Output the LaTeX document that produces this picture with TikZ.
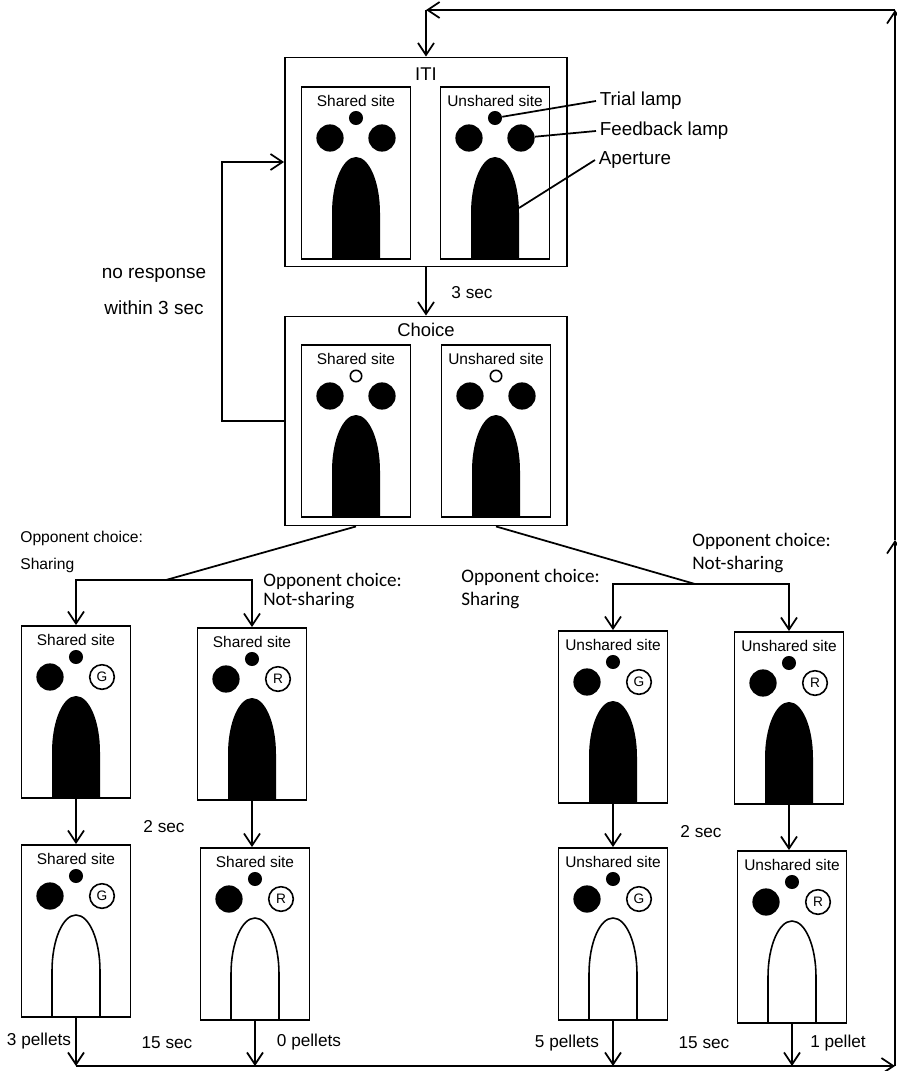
\documentclass[tikz,border=0pt]{standalone}
\usepackage{fontspec}
\setmainfont{Liberation Sans}
\newfontfamily\calibrifont{Carlito}
\usetikzlibrary{arrows.meta}

\begin{document}
\begin{tikzpicture}
[x=0.02cm,y=-0.02cm,
  framedecorate/.style={draw,line width=1.1pt,inner sep=0pt,
    minimum width=5.64cm,minimum height=4.18cm},%
  sitedecorate/.style={draw,line width=1.1pt,inner sep=0pt,
    minimum width=2.18cm,minimum height=3.44cm},%
  trialfilled/.style={shape=circle,fill=black,inner sep=0pt,minimum size=8pt},%
  trialopen/.style={shape=circle,draw,line width=0.9pt,inner sep=0pt,minimum size=6.5pt},%
  feedback/.style={shape=circle,fill=black,inner sep=0pt,minimum size=15.5pt},%
  letterlamp/.style={shape=circle,draw,line width=0.9pt,inner sep=0pt,minimum size=14pt},%
  greenlamp/.style={letterlamp,label={[lettertext]center:G}},%
  redlamp/.style={letterlamp,label={[lettertext]center:R}},%
  lettertext/.style={inner sep=0pt,font=\fontsize{7.8}{9}\selectfont},%
  shutaperture/.style={fill=black},%
  openaperture/.style={draw,line width=0.9pt},%
  sitelabel/.style={inner sep=0pt,font=\fontsize{8.8}{10}\selectfont},%
  titletext/.style={inner sep=0pt,font=\fontsize{10.5}{12}\selectfont},%
  callouttext/.style={anchor=west,inner sep=2pt,font=\fontsize{10.7}{12}\selectfont},%
  timetext/.style={inner sep=0pt,font=\fontsize{9.8}{11}\selectfont},%
  linedecorate/.style={-,line width=1pt},%
  arrowdecorate/.style={-{Straight Barb[length=2.4mm,width=3.2mm]},line width=1pt}]
\useasboundingbox (0,0) rectangle (896,1071);
%% main frames
\node (iti) at (426,162) [framedecorate] {};
\node (choice) at (426,421) [framedecorate] {};
\node [titletext] at (426,74) {ITI};
\node [titletext] at (426,330) {Choice};
%% sites with lamps and apertures
\foreach \sitename/\x/\y/\sitetext/\triallamp/\rightlamp/\aperture in {
  itis/356/173/Shared site/trialfilled/feedback/shutaperture,
  itiu/495/173/Unshared site/trialfilled/feedback/shutaperture,
  chs/356/431/Shared site/trialopen/feedback/shutaperture,
  chu/496/431/Unshared site/trialopen/feedback/shutaperture,
  sa/76/712/Shared site/trialfilled/greenlamp/shutaperture,
  sb/252/714/Shared site/trialfilled/redlamp/shutaperture,
  ua/613/717/Unshared site/trialfilled/greenlamp/shutaperture,
  ub/789/718/Unshared site/trialfilled/redlamp/shutaperture,
  sc/76/931/Shared site/trialfilled/greenlamp/openaperture,
  sd/255/934/Shared site/trialfilled/redlamp/openaperture,
  uc/613/934/Unshared site/trialfilled/greenlamp/openaperture,
  ud/792/937/Unshared site/trialfilled/redlamp/openaperture}
{
  \node (\sitename) at (\x,\y) [sitedecorate] {};
  \node [sitelabel] at (\x,\y-72) {\sitetext};
  \node (\sitename-trial) at (\x,\y-55) [\triallamp] {};
  \node (\sitename-left) at (\x-26,\y-35) [feedback] {};
  \node (\sitename-right) at (\x+26,\y-35) [\rightlamp] {};
  \path [\aperture] (\x-24,\y+86) -- (\x-24,\y+40)
    arc [start angle=-180,end angle=0,x radius=24,y radius=56] -- (\x+24,\y+86);
  \coordinate (\sitename-edge) at (\x+24,\y+35);
}
%% callouts
\node (trialtxt) at (596,101) [callouttext] {Trial lamp};
\node (feedtxt) at (596,131) [callouttext] {Feedback lamp};
\node (aperturetxt) at (595,160) [callouttext] {Aperture};
\draw [linedecorate] (itiu-trial) -- (trialtxt.west);
\draw [linedecorate] (itiu-right) -- (feedtxt.west);
\draw [linedecorate] (itiu-edge) -- (aperturetxt.west);
%% ITI to choice and no response loop
\draw [arrowdecorate] (iti) -- (choice);
\node [timetext] at (472,293) {3 sec};
\coordinate (loopcorner) at (222,162);
\draw [arrowdecorate] (choice.west) -| (loopcorner) -- (iti.west);
\node [timetext,font=\fontsize{10.8}{12}\selectfont] at (154,275) {no response};
\node [timetext,font=\fontsize{10.8}{12}\selectfont] at (154,308) {within 3 sec};
%% opponent choice branches
\coordinate (leftfork) at (166,580);
\coordinate (rightfork) at (695,584);
\draw [linedecorate] (chs |- choice.south) -- (leftfork);
\draw [linedecorate] (chu |- choice.south) -- (rightfork);
\foreach \forkname/\sitename in {leftfork/sa, leftfork/sb, rightfork/ua, rightfork/ub}
  \draw [arrowdecorate] (\forkname) -| (\sitename.north);
\node [anchor=west,inner sep=0pt,align=left,font=\fontsize{8.9}{15.4}\selectfont]
  at (20,552) {Opponent choice:\\Sharing};
\node [anchor=west,inner sep=0pt,align=left,font=\calibrifont\fontsize{10.9}{10.9}\selectfont]
  at (263,591) {Opponent choice:\\Not-sharing};
\node [anchor=west,inner sep=0pt,align=left,font=\calibrifont\fontsize{10.9}{13}\selectfont]
  at (461,589) {Opponent choice:\\Sharing};
\node [anchor=west,inner sep=0pt,align=left,font=\calibrifont\fontsize{10.9}{13}\selectfont]
  at (692,553) {Opponent choice:\\Not-sharing};
%% feedback to outcome
\foreach \upsite/\downsite in {sa/sc, sb/sd, ua/uc, ub/ud}
  \draw [arrowdecorate] (\upsite.south) -- (\upsite.south |- \downsite.north);
\node [timetext] at (164,827) {2 sec};
\node [timetext] at (701,832) {2 sec};
%% outcome to return line
\coordinate (bottomleft) at (76,1066);
\coordinate (bottomright) at (895,1066);
\foreach \sitename in {sc,sd,uc,ud}
  \draw [arrowdecorate] (\sitename.south) -- (\sitename.south |- bottomleft);
\draw [arrowdecorate] (bottomleft) -- (bottomright);
\node [timetext] at (39,1041) {3 pellets};
\node [timetext] at (167,1043) {15 sec};
\node [timetext] at (309,1042) {0 pellets};
\node [timetext] at (567,1043) {5 pellets};
\node [timetext] at (704,1043) {15 sec};
\node [timetext] at (838,1043) {1 pellet};
%% return to ITI
\coordinate (rightmid) at (895,540);
\coordinate (righttop) at (895,10);
\coordinate (topcorner) at (426,10);
\draw [arrowdecorate] (bottomright) -- (rightmid);
\draw [arrowdecorate] (rightmid) -- (righttop);
\draw [arrowdecorate] (righttop) -- (topcorner);
\draw [arrowdecorate] (topcorner) -- (iti);
\end{tikzpicture}
\end{document}
